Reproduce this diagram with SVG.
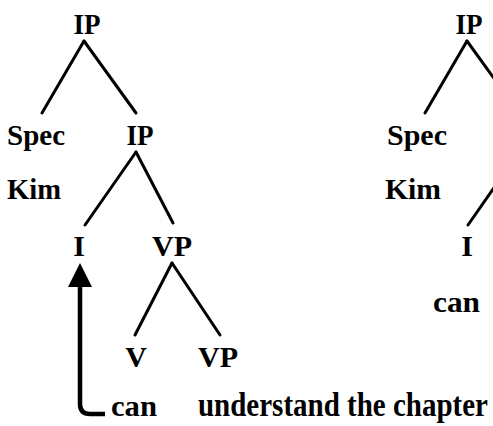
<svg xmlns="http://www.w3.org/2000/svg" width="493" height="426" viewBox="0 0 493 426">
<style>
text{font-family:"Liberation Serif","Times New Roman",Times,serif;font-weight:bold;font-size:30px;fill:#000}
.m{text-anchor:middle}
.e{stroke:#000;stroke-width:3;fill:none;stroke-linecap:round}
</style>
<rect width="493" height="426" fill="#fff"/>
<g id="connectors">
<line class="e" x1="84" y1="41" x2="42" y2="113"/>
<line class="e" x1="84" y1="41" x2="136" y2="113"/>
<line class="e" x1="136" y1="152" x2="85" y2="225"/>
<line class="e" x1="136" y1="152" x2="173" y2="223"/>
<line class="e" x1="172" y1="263" x2="135" y2="335"/>
<line class="e" x1="172" y1="263" x2="220" y2="335"/>
<line class="e" x1="467" y1="41" x2="425" y2="113"/>
<line class="e" x1="467" y1="41" x2="519" y2="113"/>
<line class="e" x1="519" y1="152" x2="468" y2="225"/>
<path d="M80 285 V404 Q80 414 90 414 H105" stroke="#000" stroke-width="4.5" fill="none"/>
<polygon points="80,263 68,287 92,287" fill="#000"/>
</g>
<g id="ip-top"><text class="m" x="87" y="34" textLength="27" lengthAdjust="spacingAndGlyphs">IP</text></g>
<g id="spec"><text x="7" y="145" textLength="58" lengthAdjust="spacingAndGlyphs">Spec</text></g>
<g id="kim"><text x="7" y="199" textLength="54" lengthAdjust="spacingAndGlyphs">Kim</text></g>
<g id="ip-mid"><text class="m" x="140" y="145" textLength="27" lengthAdjust="spacingAndGlyphs">IP</text></g>
<g id="i"><text class="m" x="79" y="256">I</text></g>
<g id="vp"><text class="m" x="172" y="256" textLength="40" lengthAdjust="spacingAndGlyphs">VP</text></g>
<g id="v"><text class="m" x="136" y="367">V</text></g>
<g id="vp2"><text class="m" x="218" y="367" textLength="40" lengthAdjust="spacingAndGlyphs">VP</text></g>
<g id="can"><text x="111" y="416" textLength="46" lengthAdjust="spacingAndGlyphs">can</text></g>
<g id="understand"><text transform="scale(1,1.15)" x="198" y="361.7" font-size="26" textLength="290" lengthAdjust="spacingAndGlyphs">understand the chapter</text></g>
<g id="r-ip-top"><text class="m" x="469" y="34" textLength="27" lengthAdjust="spacingAndGlyphs">IP</text></g>
<g id="r-spec"><text x="387" y="145" textLength="60" lengthAdjust="spacingAndGlyphs">Spec</text></g>
<g id="r-kim"><text x="385" y="199" textLength="56" lengthAdjust="spacingAndGlyphs">Kim</text></g>
<g id="r-i"><text class="m" x="467" y="256">I</text></g>
<g id="r-can"><text x="433" y="312" textLength="47" lengthAdjust="spacingAndGlyphs">can</text></g>
</svg>
